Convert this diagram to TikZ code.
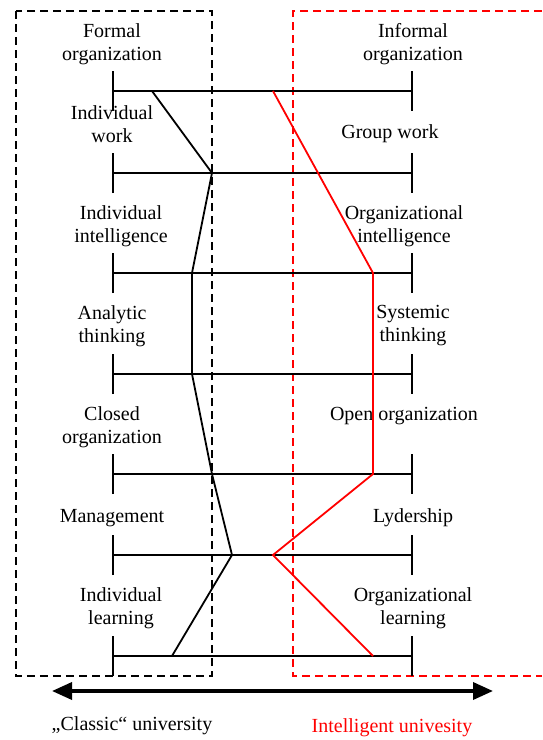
\documentclass[tikz,border=0pt]{standalone}
\usepackage{fontspec}
\setmainfont{Liberation Serif}
\usetikzlibrary{arrows.meta, positioning}
\definecolor{univRed}{RGB}{255,0,0}
\definecolor{darkText}{RGB}{0,0,0}
\tikzset{
    scaleline/.style={
        line width=1.8pt,
        draw=darkText,
        {Bar[width=40pt]}-{Bar[width=40pt]}
    },
    classicline/.style={line width=1.8pt, draw=darkText},
    intelline/.style={line width=1.8pt, draw=univRed},
    classicbox/.style={dash pattern=on 8pt off 5pt, line width=1.6pt, draw=darkText},
    intelbox/.style={dash pattern=on 8pt off 5pt, line width=1.6pt, draw=univRed},
    bigarrow/.style={
        line width=3.5pt,
        {Triangle[length=20pt,width=17pt]}-{Triangle[length=20pt,width=17pt]}
    },
    lbl/.style={
        align=center,
        inner sep=0pt,
        text=darkText,
        font=\fontsize{20}{23}\selectfont
    }
}

\begin{document}
\begin{tikzpicture}[x=1pt, y=-1pt]
    \useasboundingbox (0,0) rectangle (542,740);

    % dashed frames
    \draw[classicbox] (16,11) rectangle (212,676);
    \coordinate (redTR) at (542,11);
    \coordinate (redTL) at (293,11);
    \coordinate (redBL) at (293,676);
    \coordinate (redBR) at (542,676);
    \draw[intelbox] (redTR) -- (redTL) -- (redBL) -- (redBR);

    % scales
    \foreach \y [count=\i] in {91,173,273,374,474,555,656} {
        \coordinate (l\i) at (112,\y);
        \coordinate (r\i) at (413,\y);
        \draw[scaleline] (l\i) -- (r\i);
    }

    % left labels
    \node[lbl] (formal) at (112,44) {Formal\\organization};
    \node[lbl] (indwork) at (112,124) {Individual\\work};
    \node[lbl] (indintel) at (121,226) {Individual\\intelligence};
    \node[lbl] (analytic) at (112,326) {Analytic\\thinking};
    \node[lbl] (closed) at (112,427) {Closed\\organization};
    \node[lbl] (mgmt) at (112,518) {Management};
    \node[lbl] (indlearn) at (121,608) {Individual\\learning};

    % right labels
    \node[lbl] (informal) at (413,44) {Informal\\organization};
    \node[lbl] (groupwork) at (390,134) {Group work};
    \node[lbl] (orgintel) at (404,226) {Organizational\\intelligence};
    \node[lbl] (systemic) at (413,326) {Systemic\\thinking};
    \node[lbl] (openorg) at (404,416) {Open organization};
    \node[lbl] (lydership) at (413,518) {Lydership};
    \node[lbl] (orglearn) at (413,608) {Organizational\\learning};

    % profiles
    \coordinate (c1) at (152,91);
    \coordinate (c2) at (212,173);
    \coordinate (c3) at (192,273);
    \coordinate (c4) at (192,374);
    \coordinate (c5) at (212,474);
    \coordinate (c6) at (232,555);
    \coordinate (c7) at (172,656);
    \draw[classicline] (c1) -- (c2) -- (c3) -- (c4) -- (c5) -- (c6) -- (c7);

    \coordinate (i1) at (273,91);
    \coordinate (i3) at (373,273);
    \coordinate (i5) at (373,474);
    \coordinate (i6) at (273,555);
    \coordinate (i7) at (373,656);
    \draw[intelline] (i1) -- (i3) -- (i5) -- (i6) -- (i7);

    % bottom axis
    \coordinate (axL) at (52,691);
    \coordinate (axR) at (493,691);
    \draw[bigarrow] (axL) -- (axR);
    \node[lbl] (classic) at (132,726) {„Classic“ university};
    \node[lbl, text=univRed] (intelligent) at (392,728) {Intelligent univesity};
\end{tikzpicture}
\end{document}
